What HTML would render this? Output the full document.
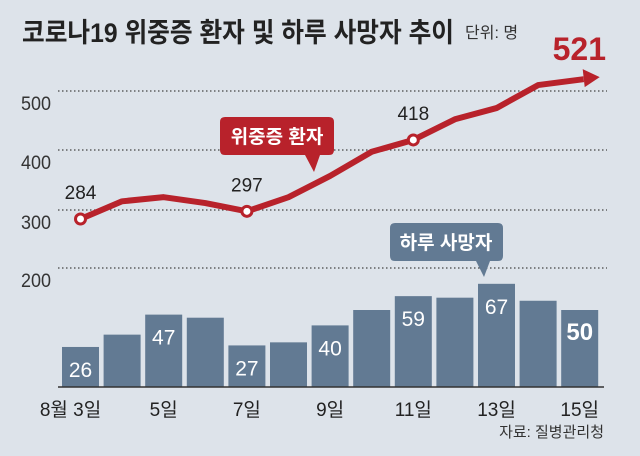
<!DOCTYPE html>
<html><head><meta charset="utf-8"><style>
body{margin:0;background:#dde3ea;}
svg{display:block;font-family:"Liberation Sans","Noto Sans CJK KR",sans-serif;}
</style></head><body>
<svg width="640" height="456" viewBox="0 0 640 456">
<rect width="640" height="456" fill="#dde3ea"/>
<text x="22" y="42" font-size="27" font-weight="bold" fill="#222" textLength="432" lengthAdjust="spacingAndGlyphs">코로나19 위중증 환자 및 하루 사망자 추이</text>
<text x="465" y="38" font-size="16" fill="#333">단위: 명</text>
<g id="grid"></g>
<g id="bars"></g>
<g id="line"></g>
<text x="604" y="437" font-size="15" fill="#333" text-anchor="end">자료: 질병관리청</text>
</svg>
<script>
const categories=["8월 3일","4일","5일","6일","7일","8일","9일","10일","11일","12일","13일","14일","15일"];
const deaths=[26,34,47,45,27,29,40,50,59,58,67,56,50];
const severe=[284,314,321,311,297,321,357,398,418,453,472,511,521];
const yTicks=[500,400,300,200];
const shownDeathLabels=[0,2,4,6,8,10,12];
const shownSevereLabels=[0,4,8];
const NS="http://www.w3.org/2000/svg";
function el(t,a,p){const e=document.createElementNS(NS,t);for(const k in a)e.setAttribute(k,a[k]);p.appendChild(e);return e;}
const bandX=i=>62+i*41.6; const bw=37;
const barY=v=>387-v*1.54;
const lineY=v=>219-(v-284)*0.59;
const lineX=i=>bandX(i)+bw/2;
const grid=document.getElementById('grid');
const gridY=[91,150,210,268];
yTicks.forEach((t,i)=>{
 const l=el('line',{x1:58,x2:607,y1:gridY[i],y2:gridY[i],stroke:'#444','stroke-width':1.3,'stroke-dasharray':'1.5 2.5'},grid);
 
 
 const tx=el('text',{x:21,y:gridY[i]+19,'font-size':19,fill:'#333',textLength:30,lengthAdjust:'spacingAndGlyphs'},grid);tx.textContent=t;
 
 
});
const bars=document.getElementById('bars');
deaths.forEach((v,i)=>{
 const r=el('rect',{x:bandX(i),y:barY(v),width:bw,height:387-barY(v),fill:'#627a93'},bars);
 
 
 if(shownDeathLabels.includes(i)){
  const t=el('text',{x:bandX(i)+bw/2,y:barY(v)+30,'font-size':i==12?24:21,'font-weight':i==12?'bold':'normal',fill:'#fff','text-anchor':'middle'},bars);t.textContent=v;
  
  
  const xl=el('text',{x:i==0?bandX(i)+bw/2-10:bandX(i)+bw/2,y:416,'font-size':19,fill:'#222','text-anchor':'middle'},bars);xl.textContent=categories[i];
  
  
 }
});
const ax=el('line',{x1:58,x2:604,y1:387,y2:387,stroke:'#333','stroke-width':1.5},bars);


const lg=document.getElementById('line');
let pts=severe.map((v,i)=>lineX(i)+','+lineY(v));
const n=severe.length-1;
const endX=lineX(n)+4,endY=lineY(severe[n]);
pts[n]=endX+','+endY;
const pl=el('polyline',{points:pts.join(' '),fill:'none',stroke:'#b8222b','stroke-width':6,'stroke-linejoin':'round'},lg);


const ah=el('polygon',{points:`${endX+16},${endY-2} ${endX-1},${endY-10} ${endX+1},${endY+8}`,fill:'#b8222b'},lg);


shownSevereLabels.forEach(i=>{
 const c=el('circle',{cx:lineX(i),cy:lineY(severe[i]),r:5,fill:'#fff',stroke:'#b8222b','stroke-width':3},lg);
 
 
 const t=el('text',{x:lineX(i),y:lineY(severe[i])-20,'font-size':19,fill:'#222','text-anchor':'middle'},lg);t.textContent=severe[i];
 
 
});
const big=el('text',{x:606,y:60,'font-size':32,'font-weight':'bold',fill:'#b8222b','text-anchor':'end'},lg);big.textContent=severe[n];


const c1=el('path',{d:'M225,117 H329 Q334,117 334,122 V150 Q334,155 329,155 H320 L314,172 L305,155 H225 Q220,155 220,150 V122 Q220,117 225,117 Z',fill:'#b8222b'},lg);


const ct1=el('text',{x:277,y:143,'font-size':19,'font-weight':'bold',fill:'#fff','text-anchor':'middle'},lg);ct1.textContent='위중증 환자';


const c2=el('path',{d:'M395,223 H498 Q503,223 503,228 V256 Q503,261 498,261 H490 L484,277 L476,261 H395 Q390,261 390,256 V228 Q390,223 395,223 Z',fill:'#627a93'},lg);


const ct2=el('text',{x:446,y:249,'font-size':19,'font-weight':'bold',fill:'#fff','text-anchor':'middle'},lg);ct2.textContent='하루 사망자';


</script>
</body></html>
